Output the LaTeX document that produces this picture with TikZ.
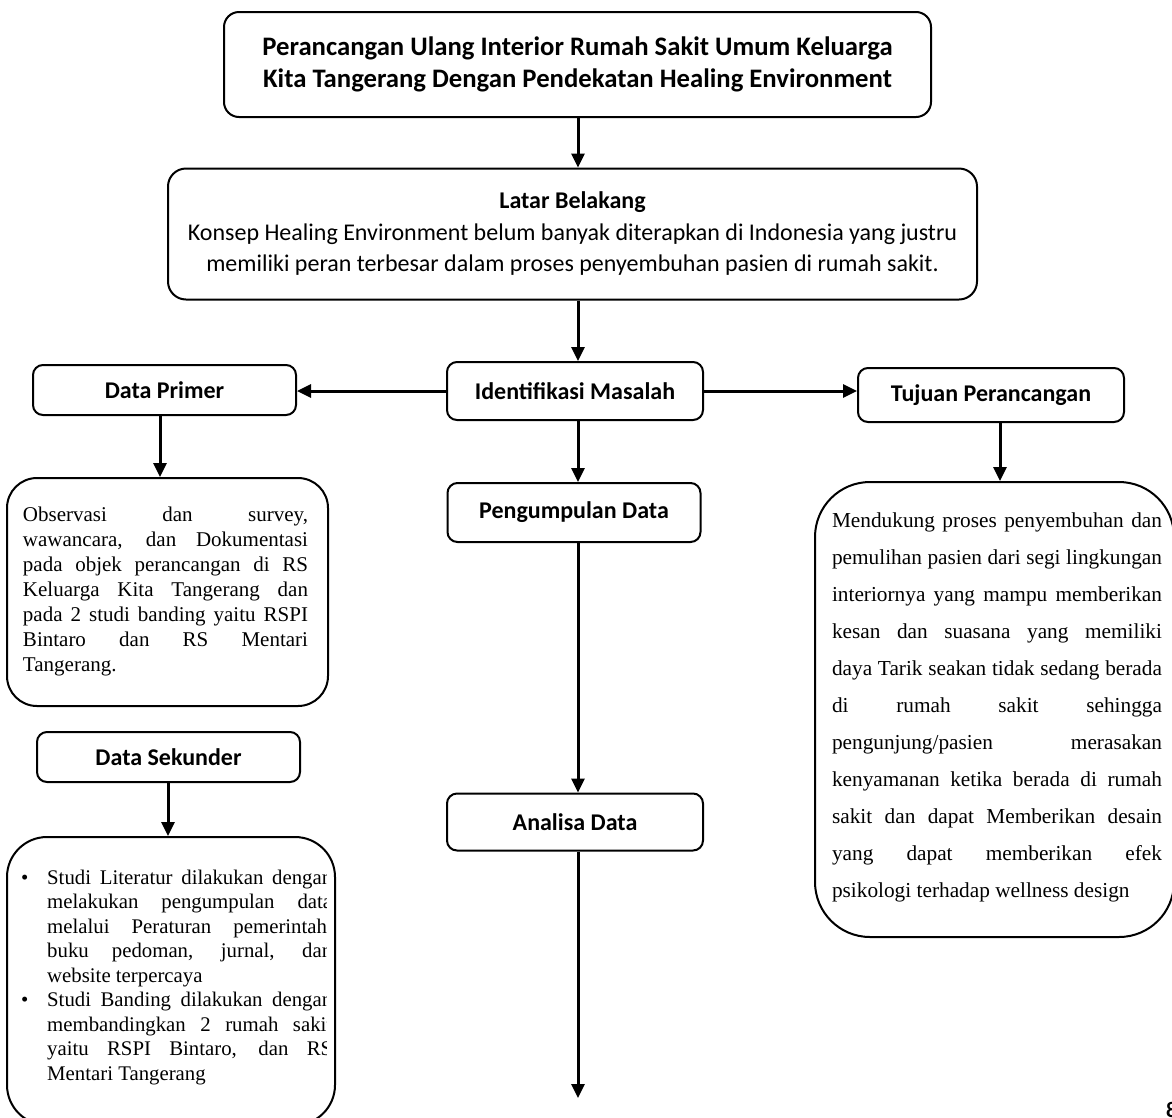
\documentclass[tikz,border=0pt]{standalone}
\usepackage{fontspec}
\setmainfont{Liberation Serif}
\newfontfamily\carlito{Carlito}
\usetikzlibrary{arrows.meta}

\tikzset{
  kotak/.style={draw,line width=2pt,rounded corners=#1,align=center,inner sep=0pt},
  kotak/.default=10pt,
  tebal/.style={font=\carlito\bfseries\fontsize{24}{30}\selectfont},
  isi/.style={align=justify,inner sep=0pt,font=\fontsize{21}{#1}\selectfont},
  panah/.style={->,>={Triangle[length=14pt,width=13pt]},line width=3pt},
}

\begin{document}
\begin{tikzpicture}[x=1pt,y=-1pt]

  \useasboundingbox (0,0) rectangle (1172,1117);

  % kotak utama
  \node[kotak=15pt,minimum width=707pt,minimum height=105pt,font=\carlito\bfseries\fontsize{26.7}{32}\selectfont] (judul) at (577.5,64.5)
    {Perancangan Ulang Interior Rumah Sakit Umum Keluarga\\Kita Tangerang Dengan Pendekatan Healing Environment};
  \node[kotak=18pt,minimum width=809pt,minimum height=131pt,font=\carlito\fontsize{24}{31.5}\selectfont] (latar) at (572.5,234)
    {\textbf{Latar Belakang}\\Konsep Healing Environment belum banyak diterapkan di Indonesia yang justru\\memiliki peran terbesar dalam proses penyembuhan pasien di rumah sakit.};

  \node[kotak,tebal,minimum width=256pt,minimum height=58pt] (identifikasi) at (575,391) {Identifikasi Masalah};
  \node[kotak,tebal,minimum width=263pt,minimum height=50pt] (primer) at (164.5,390) {Data Primer};
  \node[kotak,tebal,minimum width=266pt,minimum height=54pt] (tujuan) at (991,395) {Tujuan Perancangan};
  \node[kotak,tebal,minimum width=253pt,minimum height=59pt] (pengumpulan) at (574,512.5) {Pengumpulan Data};
  \node[kotak,tebal,minimum width=256pt,minimum height=57pt] (analisa) at (575,822) {Analisa Data};
  \node[kotak,tebal,minimum width=263pt,minimum height=50pt] (sekunder) at (168.5,757) {Data Sekunder};

  % kotak isi
  \node[kotak=30pt,minimum width=321pt,minimum height=228pt] (observasi) at (167.5,592) {};
  \node[isi=25,text width=285pt] (observasiIsi) at (165.5,591)
    {Observasi dan survey,\linebreak wawancara, dan Dokumentasi\linebreak pada objek perancangan di RS\linebreak Keluarga Kita Tangerang dan\linebreak pada 2 studi banding yaitu RSPI\linebreak Bintaro dan RS Mentari\linebreak Tangerang.};

  \node[kotak=40pt,minimum width=328pt,minimum height=288pt] (studi) at (171,981) {};
\begin{scope}
  \clip (7,837) rectangle (326,1117);
  \node[anchor=base west,inner sep=0pt,font=\fontsize{20.8}{24.5}\selectfont] (studiIsi) at (20,884)
    {\parbox[t]{312pt}{\hangindent=27pt\hangafter=1\makebox[27pt][l]{\hspace{1pt}\textbullet}Studi Literatur dilakukan dengan\linebreak melakukan pengumpulan data\linebreak melalui Peraturan pemerintah,\linebreak buku pedoman, jurnal, dan\linebreak website terpercaya\par
     \hangindent=27pt\hangafter=1\makebox[27pt][l]{\hspace{1pt}\textbullet}Studi Banding dilakukan dengan\linebreak membandingkan 2 rumah sakit\linebreak yaitu RSPI Bintaro, dan RS\linebreak Mentari Tangerang}};
\end{scope}

  \node[kotak=55pt,minimum width=359pt,minimum height=455pt] (mendukung) at (994.5,709.5) {};
  \node[isi=37,text width=330pt,font=\fontsize{21.3}{37}\selectfont] (mendukungIsi) at (997,707)
    {Mendukung proses penyembuhan dan\linebreak pemulihan pasien dari segi lingkungan\linebreak interiornya yang mampu memberikan\linebreak kesan dan suasana yang memiliki\linebreak daya Tarik seakan tidak sedang berada\linebreak di rumah sakit sehingga\linebreak pengunjung/pasien merasakan\linebreak kenyamanan ketika berada di rumah\linebreak sakit dan dapat Memberikan desain\linebreak yang dapat memberikan efek\linebreak psikologi terhadap wellness design};

  \node[anchor=west,inner sep=0pt,font=\carlito\bfseries\fontsize{22}{26}\selectfont] (halaman) at (1166,1110) {8};

  % panah
  \coordinate (akhir) at (578,1098);
  \draw[panah] (judul.south -| 578,0) -- (latar.north -| 578,0);
  \draw[panah] (latar.south -| 578,0) -- (identifikasi.north -| 578,0);
  \draw[panah] (identifikasi.west) -- (primer.east |- identifikasi.west);
  \draw[panah] (identifikasi.east) -- (tujuan.west |- identifikasi.east);
  \draw[panah] (identifikasi.south -| 578,0) -- (pengumpulan.north -| 578,0);
  \draw[panah] (pengumpulan.south -| 578,0) -- (analisa.north -| 578,0);
  \draw[panah] (analisa.south -| 578,0) -- (akhir);
  \draw[panah] (primer.south -| 160,0) -- (observasi.north -| 160,0);
  \draw[panah] (sekunder.south -| 168,0) -- (studi.north -| 168,0);
  \draw[panah] (tujuan.south -| 1000,0) -- (mendukung.north -| 1000,0);

\end{tikzpicture}
\end{document}
